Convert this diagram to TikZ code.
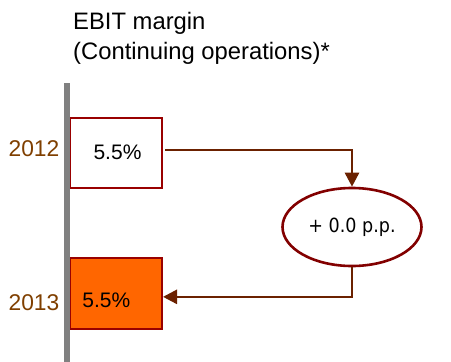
\documentclass[tikz,border=0pt]{standalone}
\usepackage{fontspec}
\setmainfont{Liberation Sans}
\newfontfamily\ppfont[FakeStretch=0.9]{DejaVu Sans}
\usetikzlibrary{arrows.meta,shapes.geometric}
\definecolor{boxred}{HTML}{990000}
\definecolor{flowbrown}{HTML}{6B2100}
\definecolor{yearbrown}{HTML}{7F3F00}
\definecolor{barorange}{HTML}{FF6600}
\definecolor{axisgray}{HTML}{808080}
\tikzset{
  valbox/.style={draw=boxred, line width=2pt, inner sep=0pt,
    minimum width=92pt, anchor=north west},
  yearlbl/.style={text=yearbrown, font=\fontsize{22.8}{26}\selectfont,
    anchor=base east, inner sep=0pt},
  vallbl/.style={font=\fontsize{21}{24}\selectfont, anchor=base, inner sep=0pt},
  titlelbl/.style={font=\fontsize{23.8}{28}\selectfont, anchor=base west, inner sep=0pt},
  deltanode/.style={ellipse, draw=boxred!85!black, line width=2.6pt,
    minimum width=139pt, minimum height=78pt, inner sep=0pt,
    font=\ppfont\fontsize{19.5}{22}\selectfont},
  flow/.style={draw=flowbrown, line width=2.6pt,
    -{Triangle[length=14pt,width=14pt]}}
}
\begin{document}
\begin{tikzpicture}[x=1pt,y=-1pt]
\useasboundingbox (0,0) rectangle (451,362);

% title
\node[titlelbl] (t1) at (73,29) {EBIT margin};
\node[titlelbl] (t2) at (73,59) {(Continuing operations)*};

% value boxes (left edges tucked under the axis)
\node[valbox, minimum height=70pt] (b12) at (69,116.7) {};
\node[valbox, fill=barorange, minimum height=71.3pt] (b13) at (69,256.7) {};
\node[vallbl] (v12) at (117.5,159) {5.5\%};
\node[vallbl] (v13) at (106.4,307) {5.5\%};

% vertical axis
\fill[axisgray] (64,83) rectangle (70.2,362);

% year labels
\node[yearlbl] (y12) at (59.5,156.5) {2012};
\node[yearlbl] (y13) at (59.5,310.5) {2013};

% change bubble
\node[deltanode] (d) at (352,227) {+ 0.0 p.p.};

% connectors
\coordinate (c1) at ([xshift=2pt,yshift=2.7pt]b12.east);
\coordinate (c2) at ([yshift=-3.5pt]b13.east);
\draw[flow] (c1) -| (d.north);
\draw[flow] (d.south) |- (c2);
\end{tikzpicture}
\end{document}
